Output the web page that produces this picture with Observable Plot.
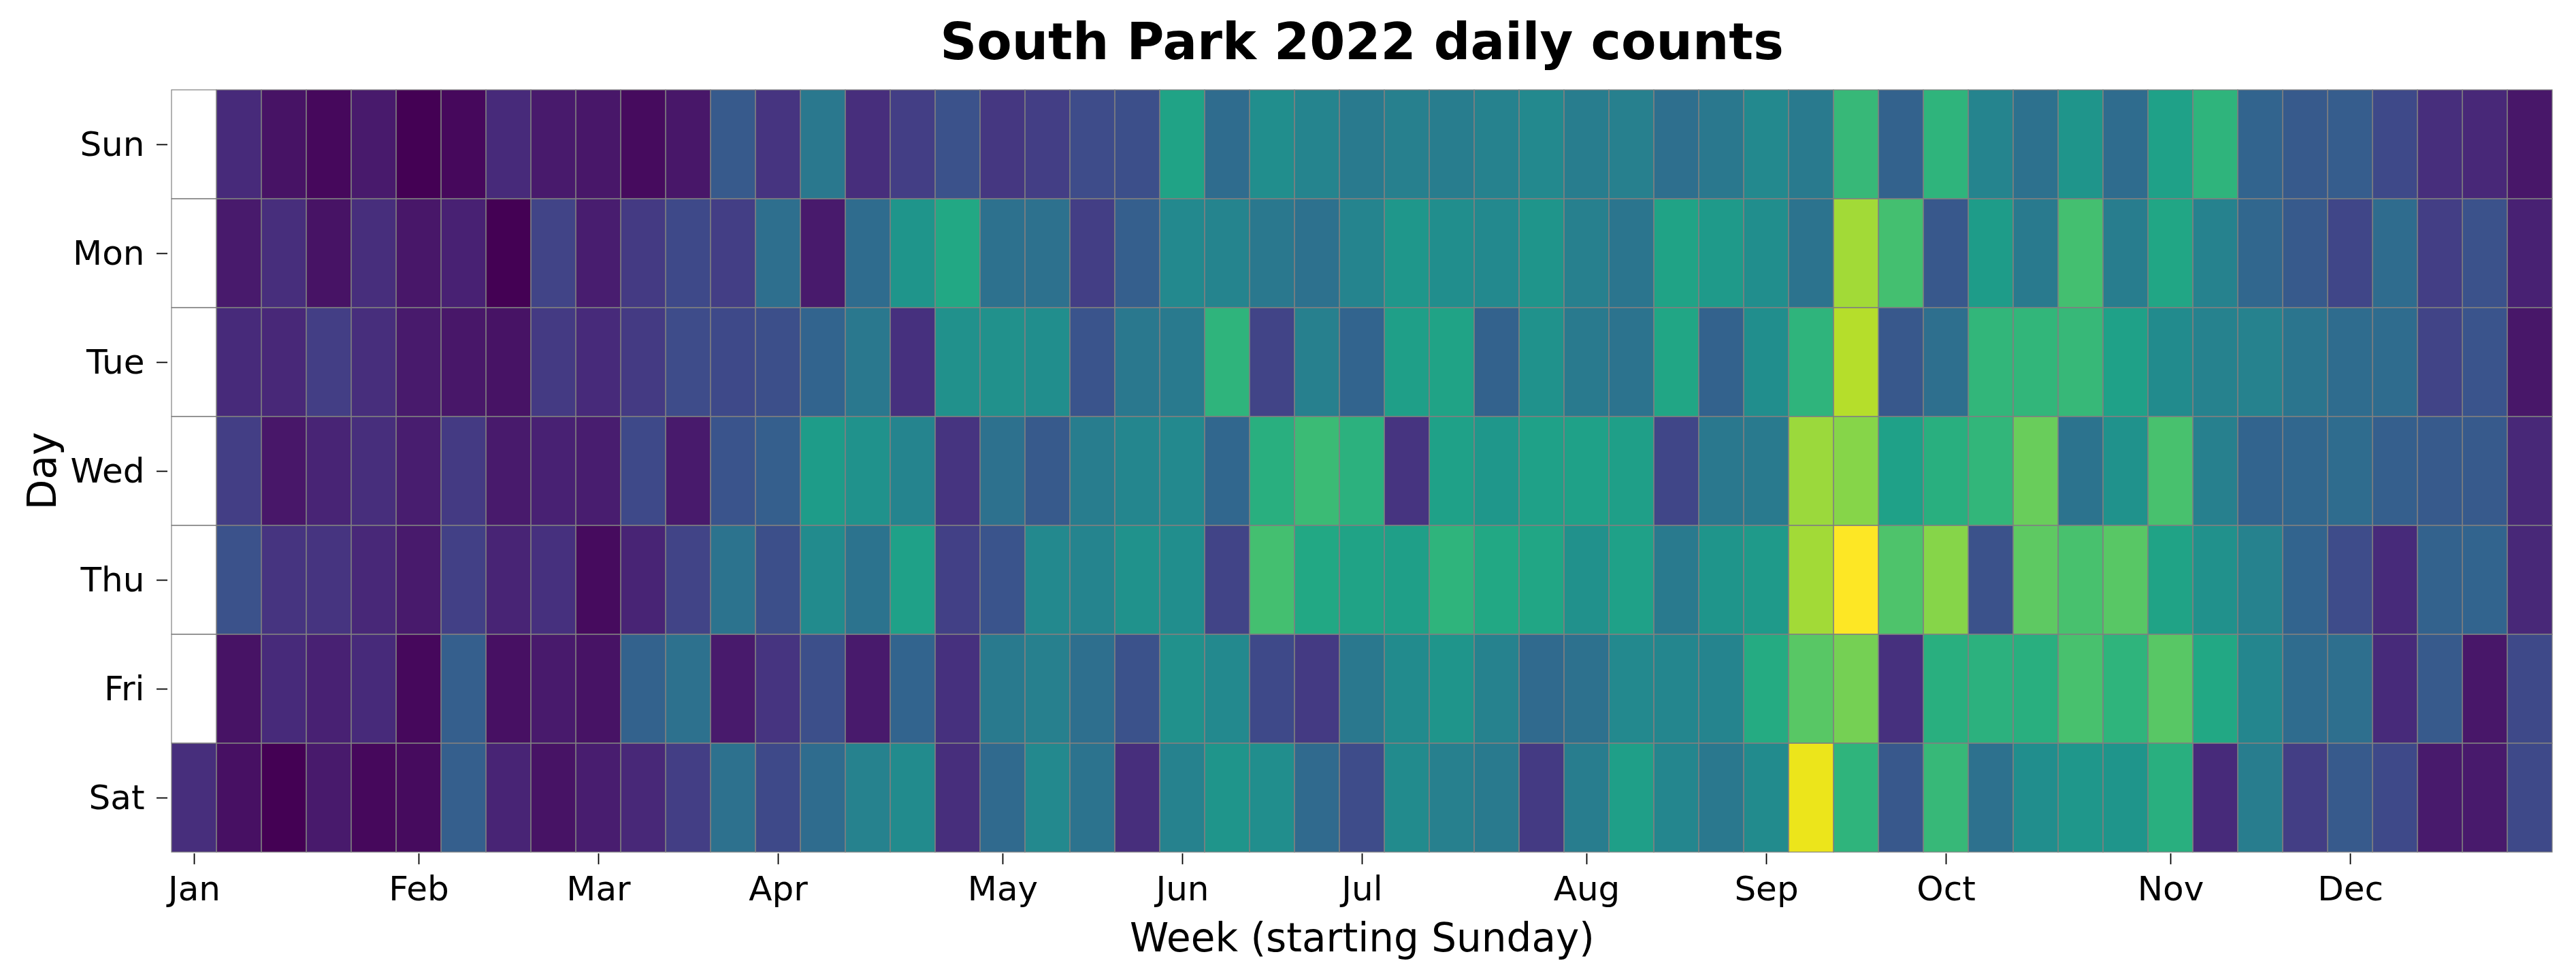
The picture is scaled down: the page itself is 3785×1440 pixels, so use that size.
<!DOCTYPE html>
<html><head><meta charset="utf-8">
<script src="https://cdn.jsdelivr.net/npm/d3@7"></script>
<script src="https://cdn.jsdelivr.net/npm/@observablehq/plot@0.6"></script>
<style>
html,body{margin:0;padding:0;background:#fff;}
#title{font-family:"DejaVu Sans";font-weight:bold;font-size:75px;height:122px;line-height:122px;margin-left:246px;width:3510px;text-align:center;color:#000;white-space:nowrap;}
#chart svg{display:block;}
</style></head><body>
<div id="title">South Park 2022 daily counts</div>
<div id="chart"></div>
<script>
// Rows (weekday labels), top to bottom
const dayLabels = ["Sun", "Mon", "Tue", "Wed", "Thu", "Fri", "Sat"];
// Month tick labels and the week column (0 = week starting Sun 2021-12-26) holding the 1st of each month
const monthLabels = ["Jan", "Feb", "Mar", "Apr", "May", "Jun", "Jul", "Aug", "Sep", "Oct", "Nov", "Dec"];
const monthWeeks = [0, 5, 9, 13, 18, 22, 26, 31, 35, 39, 44, 48];

// Daily counts per weekday, one value per week column (null = day outside 2022)
const sun = [null, 12, 5, 2, 7, 0, 2, 12, 7, 6, 3, 6, 28, 15, 40, 13, 18, 25, 16, 18, 23, 24, 58, 35, 49, 45, 41, 43, 42, 44, 47, 42, 43, 36, 40, 47, 41, 67, 31, 65, 45, 37, 52, 35, 57, 65, 32, 28, 29, 22, 13, 11, 6];
const mon = [null, 7, 13, 5, 13, 6, 9, 0, 20, 8, 17, 22, 18, 36, 7, 35, 52, 60, 37, 37, 18, 30, 47, 45, 40, 37, 45, 53, 49, 47, 52, 43, 39, 58, 54, 49, 38, 86, 70, 27, 55, 41, 70, 42, 59, 44, 33, 28, 21, 35, 18, 25, 9];
const tue = [null, 12, 11, 18, 13, 7, 6, 5, 17, 12, 17, 23, 22, 24, 32, 40, 14, 50, 50, 49, 26, 40, 41, 65, 20, 43, 32, 56, 58, 31, 51, 41, 38, 59, 31, 49, 65, 89, 27, 36, 66, 66, 67, 57, 48, 44, 44, 39, 35, 35, 20, 26, 6];
const wed = [null, 18, 6, 10, 13, 8, 17, 7, 9, 8, 22, 7, 26, 30, 55, 51, 45, 15, 37, 28, 42, 46, 47, 33, 63, 68, 64, 15, 57, 53, 57, 57, 56, 21, 40, 41, 85, 82, 57, 63, 66, 77, 38, 51, 71, 43, 32, 33, 35, 30, 28, 28, 11];
const thu = [null, 25, 15, 15, 11, 7, 19, 10, 14, 3, 10, 20, 38, 24, 48, 38, 57, 19, 26, 47, 45, 51, 49, 20, 70, 60, 58, 56, 65, 60, 59, 50, 57, 41, 52, 54, 86, 100, 72, 82, 25, 75, 71, 74, 58, 50, 44, 32, 23, 12, 31, 32, 11];
const fri = [null, 5, 12, 9, 12, 2, 30, 4, 7, 5, 31, 37, 7, 15, 24, 7, 32, 14, 41, 43, 36, 25, 50, 47, 22, 17, 40, 48, 52, 44, 34, 37, 47, 46, 45, 61, 74, 79, 14, 63, 64, 63, 71, 65, 74, 60, 46, 35, 36, 12, 28, 6, 22];
const sat = [13, 4, 0, 7, 2, 3, 30, 10, 5, 8, 11, 18, 37, 22, 35, 44, 48, 13, 34, 47, 38, 13, 44, 52, 49, 34, 23, 48, 43, 41, 17, 42, 56, 46, 40, 48, 97, 65, 27, 67, 37, 49, 53, 52, 63, 12, 42, 18, 28, 22, 7, 7, 22];

const series = [sun, mon, tue, wed, thu, fri, sat];
const weeks = d3.range(sun.length);
const cells = [];
const grid = [];
dayLabels.forEach((day, d) => weeks.forEach(w => {
  grid.push({week: w, day});
  const v = series[d][w];
  if (v != null) cells.push({week: w, day, count: v});
}));

const chart = Plot.plot({
  width: 3785,
  height: 1318,
  marginTop: 7,
  marginRight: 29,
  marginBottom: 186,
  marginLeft: 246,
  style: {fontFamily: "DejaVu Sans", fontSize: "50px", color: "#000", background: "#fff"},
  x: {type: "band", domain: weeks, padding: 0, axis: null},
  y: {type: "band", domain: dayLabels, padding: 0, axis: null},
  color: {type: "linear", scheme: "viridis", domain: d3.extent(cells, d => d.count)},
  marks: [
    Plot.cell(cells, {x: "week", y: "day", fill: "count"}),
    Plot.cell(grid, {x: "week", y: "day", fill: "none", stroke: "#808080", strokeWidth: 1.2}),
    Plot.axisX({ticks: monthWeeks, tickFormat: w => monthLabels[monthWeeks.indexOf(w)], tickSize: 16, tickPadding: 17, strokeWidth: 1.8, fontSize: 50, label: null}),
    Plot.axisY({tickSize: 16, tickPadding: 18, strokeWidth: 1.8, fontSize: 50, label: null}),
    Plot.text(["Week (starting Sunday)"], {text: d => d, frameAnchor: "bottom", textAnchor: "middle", lineAnchor: "bottom", dy: 143, fontSize: 58}),
    Plot.text(["Day"], {text: d => d, frameAnchor: "left", textAnchor: "middle", lineAnchor: "bottom", rotate: -90, dx: -165, fontSize: 58})
  ]
});
document.getElementById("chart").appendChild(chart);
</script>
</body></html>
